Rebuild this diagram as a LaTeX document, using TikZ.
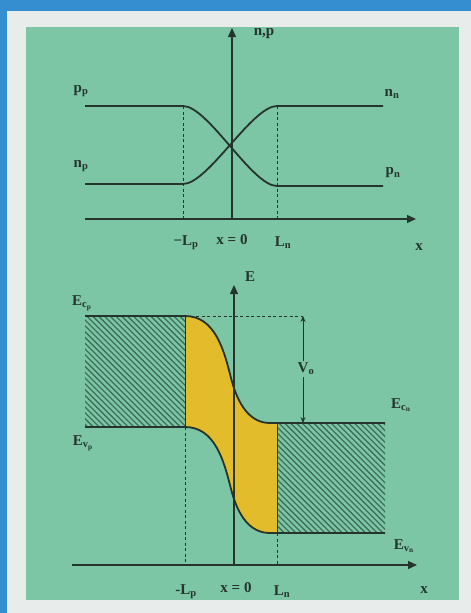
\documentclass[tikz,border=0pt]{standalone}
\usepackage{fontspec}
\setmainfont{Liberation Serif}
\usetikzlibrary{arrows.meta}
\definecolor{panelgreen}{RGB}{124,198,166}
\definecolor{framewhite}{RGB}{232,237,236}
\definecolor{borderblue}{RGB}{52,142,208}
\definecolor{junction}{RGB}{226,188,42}
\definecolor{ink}{RGB}{38,52,46}
\definecolor{hatchcol}{RGB}{62,112,90}
\tikzset{
  curve/.style={ink, line width=1.8pt},
  axis/.style={ink, line width=1.3pt, -{Triangle[length=9pt,width=8pt]}},
  guide/.style={ink, line width=0.8pt, dash pattern=on 3pt off 2.5pt},
  lbl/.style={text=ink, font=\fontsize{15}{16}\selectfont\bfseries, inner sep=1pt},
  hatchline/.style={hatchcol, line width=1.3pt},
}
\begin{document}
\begin{tikzpicture}[x=1pt,y=-1pt]
\useasboundingbox (0,0) rectangle (471,613);
\fill[framewhite] (0,0) rectangle (471,613);
\fill[borderblue] (0,0) rectangle (471,11);
\fill[borderblue] (0,0) rectangle (7,613);
\fill[panelgreen] (26,27) rectangle (459,600);

% ---------- top diagram ----------
\coordinate (tO) at (85,219);
\coordinate (tX) at (416,219);
\coordinate (tYb) at (232,219);
\coordinate (tYt) at (232,28);
\coordinate (tLp) at (183,106);
\coordinate (tLpB) at (183,219);
\coordinate (tLn) at (277,106);
\coordinate (tLnB) at (277,219);

\draw[guide] (tLp) -- (tLpB);
\draw[guide] (tLn) -- (tLnB);
\draw[axis] (tO) -- (tX);
\draw[axis] (tYb) -- (tYt);

\draw[curve] (85,106) -- (183,106) .. controls (208,106) and (252,186) .. (277,186) -- (383,186);
\draw[curve] (85,184) -- (183,184) .. controls (208,184) and (252,106) .. (277,106) -- (383,106);

\node[lbl] (lnp) at (264,34) {n,p};
\node[lbl] (lpp) at (81,91) {p\textsubscript{p}};
\node[lbl] (lnpp) at (81,166) {n\textsubscript{p}};
\node[lbl] (lnn) at (392,94) {n\textsubscript{n}};
\node[lbl] (lpn) at (393,173) {p\textsubscript{n}};
\node[lbl] (tlLp) at (186,243) {−L\textsubscript{p}};
\node[lbl] (tlx0) at (232,240) {x = 0};
\node[lbl] (tlLn) at (283,243) {L\textsubscript{n}};
\node[lbl] (tlx) at (419,247) {x};

% ---------- bottom diagram ----------
\coordinate (bO) at (72,565);
\coordinate (bX) at (417,565);
\coordinate (bYb) at (234,565);
\coordinate (bYt) at (234,285);

% yellow junction region
\fill[junction] (185,316) .. controls (215,316) and (224,350) .. (231,378)
  .. controls (238,405) and (250,423) .. (270,423) -- (277,423) -- (277,533) -- (270,533)
  .. controls (250,533) and (238,516) .. (231,489)
  .. controls (224,461) and (215,427) .. (185,427) -- cycle;

% hatched regions
\begin{scope}
  \clip (85,316) rectangle (185,427);
  \foreach \i in {0,...,40} {
    \draw[hatchline] ({85-120+\i*5.8},316) -- ++(111,111);
  }
\end{scope}
\begin{scope}
  \clip (277,423) rectangle (385,533);
  \foreach \i in {0,...,40} {
    \draw[hatchline] ({277-120+\i*5.8},423) -- ++(110,110);
  }
\end{scope}

\coordinate (Vtop) at (303,316);
\coordinate (Vbot) at (303,423);
\draw[guide] (185,316) -- (Vtop);
\draw[guide] (185,427) -- (185,565);
\draw[guide] (277,533) -- (277,565);

\draw[axis] (bO) -- (bX);
\draw[axis] (bYb) -- (bYt);

\draw[ink, line width=0.8pt] (185,316) -- (185,427);
\draw[ink, line width=0.8pt] (277,423) -- (277,533);

\draw[curve] (85,316) -- (185,316) .. controls (215,316) and (224,350) .. (231,378)
  .. controls (238,405) and (250,423) .. (270,423) -- (385,423);
\draw[curve] (85,427) -- (185,427) .. controls (215,427) and (224,461) .. (231,489)
  .. controls (238,516) and (250,533) .. (270,533) -- (385,533);

\draw[ink, line width=0.9pt, {Stealth[length=6pt,width=5pt]}-{Stealth[length=6pt,width=5pt]}] (Vtop) -- (Vbot);
\node[lbl, fill=panelgreen, inner sep=2pt] (lV) at (306,369) {V\textsubscript{o}};

\node[lbl] (lE) at (250,277) {E};
\node[lbl] (lEcp) at (82,303) {E\textsubscript{c\textsubscript{p}}};
\node[lbl] (lEvp) at (83,443) {E\textsubscript{v\textsubscript{p}}};
\node[lbl] (lEcn) at (401,405) {E\textsubscript{c\textsubscript{n}}};
\node[lbl] (lEvn) at (404,546) {E\textsubscript{v\textsubscript{n}}};
\node[lbl] (blLp) at (186,592) {-L\textsubscript{p}};
\node[lbl] (blx0) at (236,588) {x = 0};
\node[lbl] (blLn) at (282,592) {L\textsubscript{n}};
\node[lbl] (blx) at (424,590) {x};
\end{tikzpicture}
\end{document}
